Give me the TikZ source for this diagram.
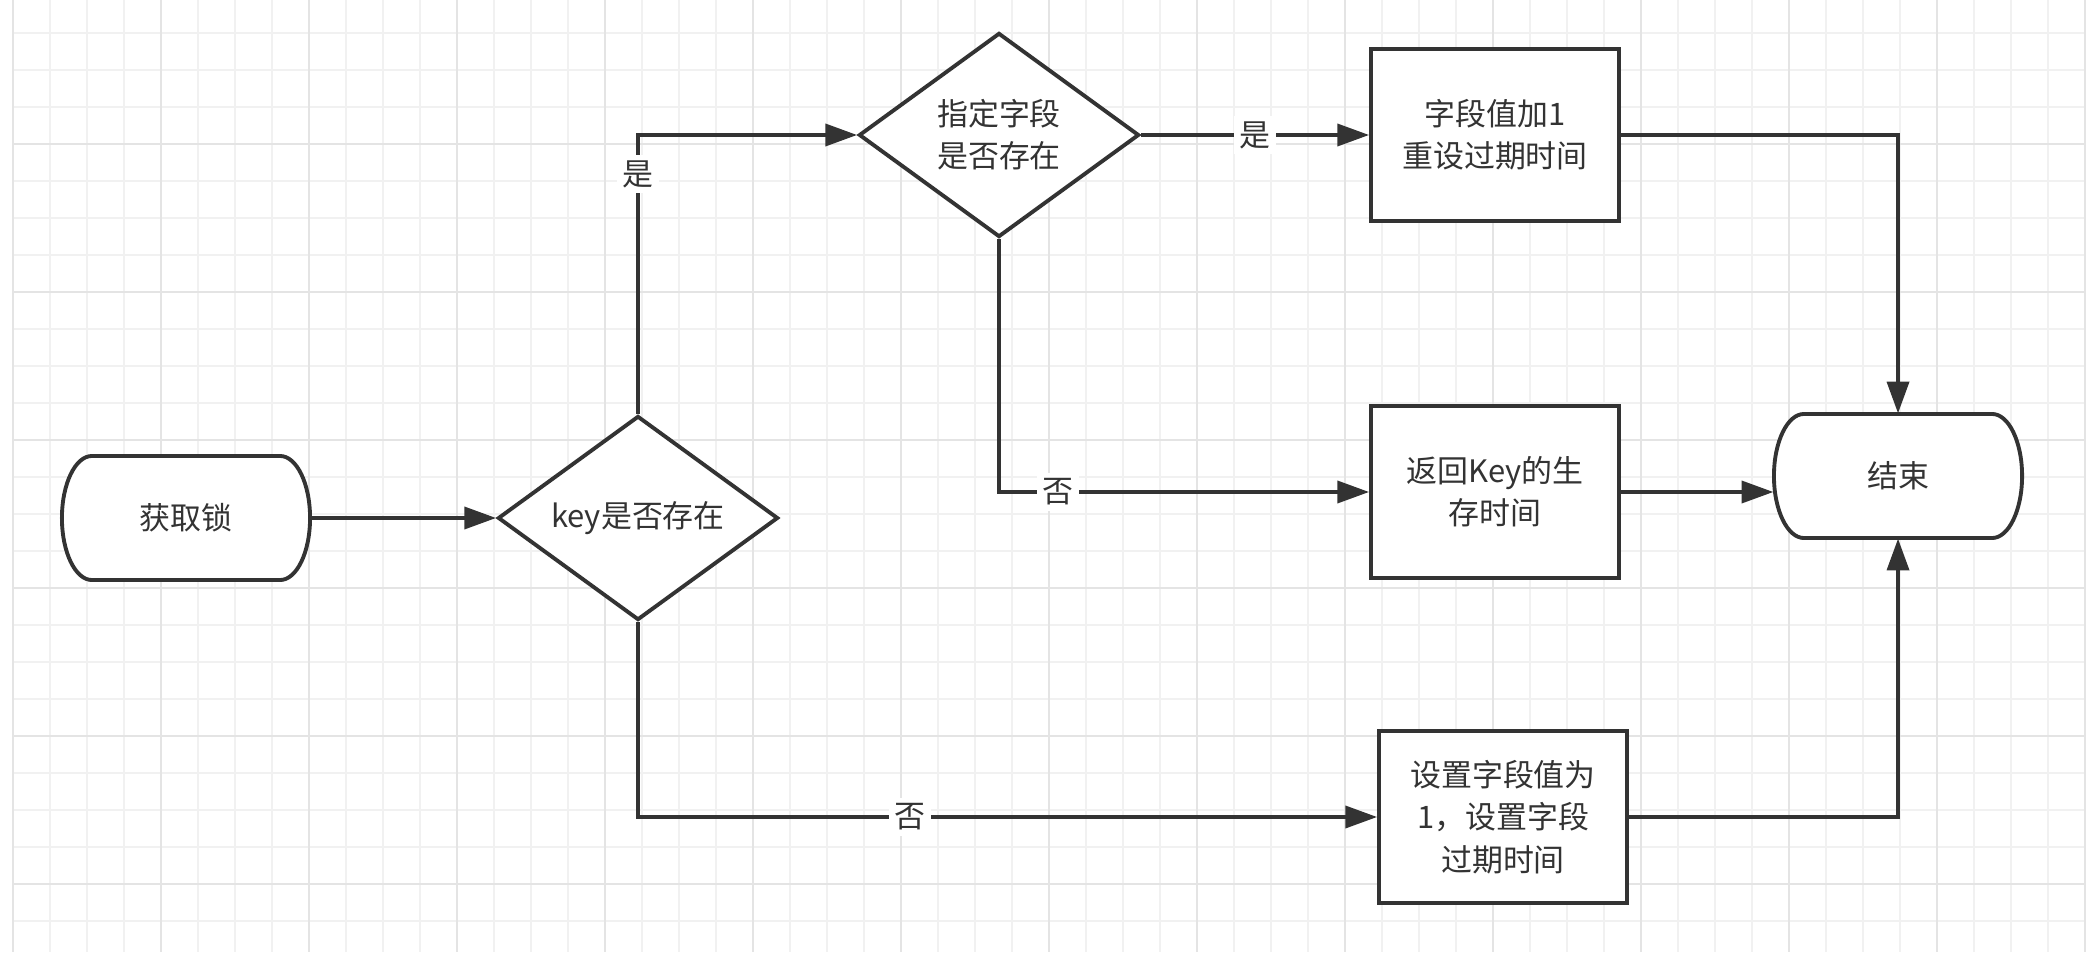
\documentclass[tikz,border=0pt]{standalone}
\usepackage{fontspec}
\setmainfont{Noto Sans CJK SC}
\usetikzlibrary{shapes.geometric,arrows.meta}
\definecolor{ink}{HTML}{333333}
\definecolor{gridminor}{HTML}{F1F1F1}
\definecolor{gridmajor}{HTML}{E4E4E4}
\tikzset{
  base/.style={draw=ink, line width=1.1pt, fill=white, text=ink, align=center,
    font=\fontsize{8.8}{12}\selectfont, inner sep=2pt},
  termline/.style={draw=ink, fill=white, line width=1.1pt},
  terminal/.style={rectangle, text=ink, font=\fontsize{8.8}{12}\selectfont,
    inner sep=0pt, minimum width=2.48cm, minimum height=1.24cm},
  decision/.style={base, diamond, shape aspect=1.4, minimum width=2.80cm, minimum height=2.04cm},
  process/.style={base, rectangle, minimum width=2.48cm, minimum height=1.72cm},
  flow/.style={draw=ink, line width=0.9pt, -{Triangle[length=9pt,width=6.3pt]}},
  lbl/.style={fill=white, text=ink, font=\fontsize{8.8}{12}\selectfont, inner sep=1.5pt}
}
% 起止框：左右两端为半椭圆
\newcommand{\terminator}[4]{%
  \begin{scope}[shift={(#2,#3)}]
    \path[termline] (-0.94cm,0.62cm) -- (0.94cm,0.62cm)
      arc[start angle=90, end angle=-90, x radius=0.3cm, y radius=0.62cm]
      -- (-0.94cm,-0.62cm)
      arc[start angle=270, end angle=90, x radius=0.3cm, y radius=0.62cm] -- cycle;
  \end{scope}
  \node[terminal] (#1) at (#2,#3) {#4};}
\begin{document}
\begin{tikzpicture}[x=0.01cm, y=-0.01cm]
  \useasboundingbox[fill=white] (0,0) rectangle (2086,952);
  % 背景网格
  \foreach \i in {0,...,56}
    \draw[gridminor, line width=0.4pt] ({13+37*\i},0) -- ({13+37*\i},952);
  \foreach \i in {1,...,25}
    \draw[gridminor, line width=0.4pt] (13,{-4+37*\i}) -- (2086,{-4+37*\i});
  \foreach \i in {0,...,14}
    \draw[gridmajor, line width=0.55pt] ({13+148*\i},0) -- ({13+148*\i},952);
  \foreach \i in {1,...,6}
    \draw[gridmajor, line width=0.55pt] (13,{-4+148*\i}) -- (2086,{-4+148*\i});

  \terminator{start}{186}{518}{获取锁}
  \node[decision] (keyok) at (638,518) {key是否存在};
  \node[decision] (fieldok) at (999,135) {指定字段\\是否存在};
  \node[process] (incr) at (1495,135) {字段值加1\\重设过期时间};
  \node[process] (ttl) at (1495,492) {返回Key的生\\存时间};
  \node[process] (setf) at (1503,817) {设置字段值为\\1，设置字段\\过期时间};
  \terminator{stop}{1898}{476}{结束}

  \draw[flow] (start) -- (keyok);
  \draw[flow] (keyok) |- node[lbl, pos=0.43] {是} (fieldok);
  \draw[flow] (fieldok) -- node[lbl] {是} (incr);
  \draw[flow] (fieldok) |- node[lbl, pos=0.58] {否} (ttl);
  \draw[flow] (keyok) |- node[lbl, pos=0.684] {否} (setf);
  \draw[flow] (incr) -| (stop);
  \draw[flow] (ttl) -- (ttl -| stop.west);
  \draw[flow] (setf) -| (stop);
\end{tikzpicture}
\end{document}
